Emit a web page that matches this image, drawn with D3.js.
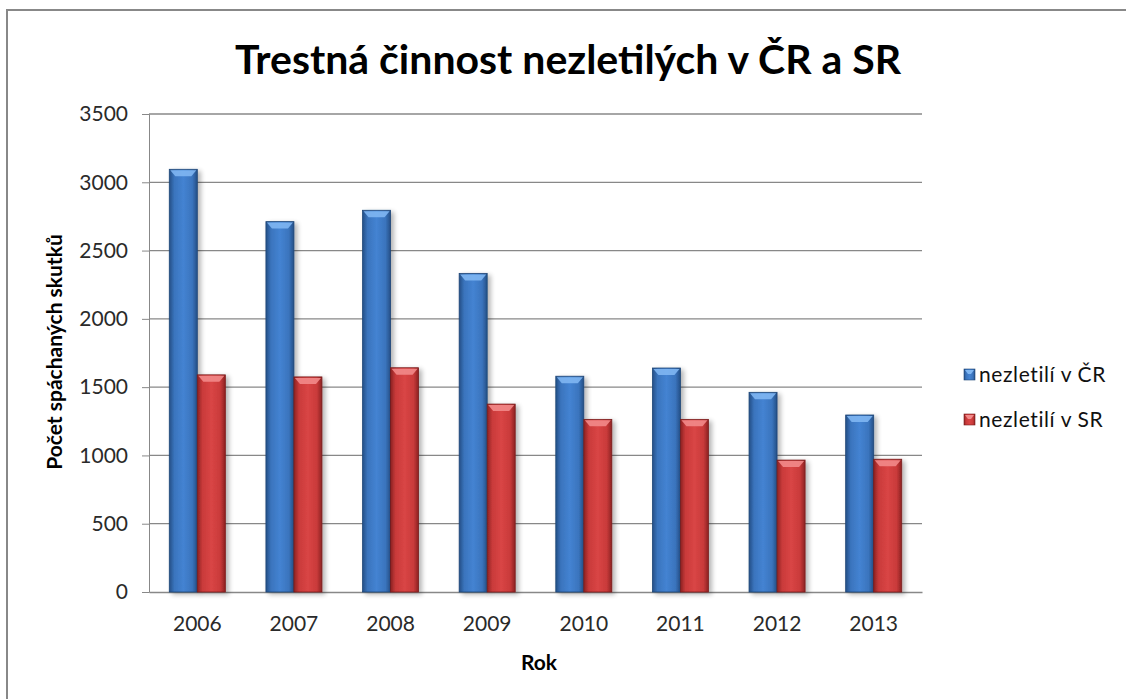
<!DOCTYPE html>
<html>
<head>
<meta charset="utf-8">
<style>
    body { margin: 0; background: #fff; }
    svg text { font-family: Lato, "Open Sans", sans-serif; fill: #000; }
    .tick text { font-size: 21px; fill: #2a2a2a; }
    .title { font-size: 41px; font-weight: bold; }
    .axis-title { font-size: 21px; font-weight: bold; }
    .legend text { font-size: 21px; letter-spacing: 0.6px; fill: #111; }
</style>
<script src="https://d3js.org/d3.v7.min.js"></script>
</head>
<body>
<svg width="1126" height="699"></svg>
<script>
    var years = ["2006", "2007", "2008", "2009", "2010", "2011", "2012", "2013"];
    var seriesNames = ["nezletilí v ČR", "nezletilí v SR"];
    var valuesCR = [3095, 2712, 2795, 2333, 1580, 1640, 1462, 1296];
    var valuesSR = [1590, 1575, 1642, 1376, 1264, 1264, 966, 972];
    var yTicks = [0, 500, 1000, 1500, 2000, 2500, 3000, 3500];

    var svg = d3.select("svg");
    var margin = { left: 149, right: 1126 - 922, top: 114, bottom: 699 - 592 };
    var w = 1126 - margin.left - margin.right,
        h = 699 - margin.top - margin.bottom;

    // outer frame
    svg.append("path")
       .attr("d", "M7,699 V10 H1126")
       .attr("fill", "none")
       .attr("stroke", "#888")
       .attr("stroke-width", 2);

    var defs = svg.append("defs");
    function barGradient(id, edge, mid, light) {
        var g = defs.append("linearGradient").attr("id", id)
            .attr("x1", "0%").attr("x2", "100%").attr("y1", "0%").attr("y2", "0%");
        g.append("stop").attr("offset", "0%").attr("stop-color", edge);
        g.append("stop").attr("offset", "18%").attr("stop-color", mid);
        g.append("stop").attr("offset", "50%").attr("stop-color", light);
        g.append("stop").attr("offset", "82%").attr("stop-color", mid);
        g.append("stop").attr("offset", "100%").attr("stop-color", edge);
    }
    barGradient("gBlue", "#244f86", "#3a74bd", "#4483d2");
    barGradient("gRed", "#8c2222", "#c93a3a", "#d94545");
    var capBlue = "#7fb6f2", capRed = "#f28a8a";

    var shadow = defs.append("filter").attr("id", "shadow")
        .attr("x", "-20%").attr("y", "-5%").attr("width", "150%").attr("height", "115%");
    shadow.append("feGaussianBlur").attr("in", "SourceAlpha").attr("stdDeviation", 2.5);
    shadow.append("feOffset").attr("dx", 3).attr("dy", 2).attr("result", "b");
    shadow.append("feComponentTransfer").append("feFuncA").attr("type", "linear").attr("slope", 0.3);
    var fm = shadow.append("feMerge");
    fm.append("feMergeNode");
    fm.append("feMergeNode").attr("in", "SourceGraphic");

    var g = svg.append("g").attr("transform", "translate(" + margin.left + "," + margin.top + ")");

    var x = d3.scaleBand().domain(years).range([0, w]).paddingInner(0.42).paddingOuter(0.21);
    var x1 = d3.scaleBand().domain(seriesNames).range([0, x.bandwidth()]);
    var y = d3.scaleLinear().domain([0, 3500]).range([h, 0]);

    // gridlines
    g.append("g").selectAll("line").data(yTicks.slice(1)).join("line")
        .attr("x1", 0).attr("x2", w)
        .attr("y1", d => y(d)).attr("y2", d => y(d))
        .attr("stroke", "#888").attr("stroke-width", 1.3);

    // y axis
    var yAxis = g.append("g").call(d3.axisLeft(y).tickValues(yTicks).tickFormat(d3.format("d")).tickSize(7).tickPadding(14));
    yAxis.select(".domain").attr("stroke", "#888");
    yAxis.selectAll(".tick line").attr("stroke", "#888");

    // x axis
    var xAxis = g.append("g").attr("transform", "translate(0," + h + ")")
        .call(d3.axisBottom(x).tickSize(0).tickPadding(24));
    xAxis.select(".domain").attr("stroke", "#888").attr("stroke-width", 1.3);

    var series = [
        { name: seriesNames[0], values: valuesCR, fill: "url(#gBlue)", cap: capBlue, edge: "#1f4677" },
        { name: seriesNames[1], values: valuesSR, fill: "url(#gRed)", cap: capRed, edge: "#7a1c1c" }
    ];

    series.forEach(function (s) {
        var bw = x1.bandwidth();
        var bars = g.append("g").selectAll("g").data(years).join("g")
            .attr("transform", (d, i) => "translate(" + (x(d) + x1(s.name)) + "," + y(s.values[i]) + ")")
            .attr("filter", "url(#shadow)");
        bars.append("rect")
            .attr("width", bw)
            .attr("height", (d, i) => h - y(s.values[i]))
            .attr("fill", s.fill)
            .attr("stroke", s.edge).attr("stroke-width", 0.8);
        // bevelled top highlight
        bars.append("path")
            .attr("d", "M1,1 H" + (bw - 1) + " L" + (bw - 6) + ",7 H6 Z")
            .attr("fill", s.cap).attr("opacity", 0.9);
    });

    // title
    svg.append("text").attr("class", "title")
        .attr("x", 568).attr("y", 74).attr("text-anchor", "middle")
        .text("Trestná činnost nezletilých v ČR a SR");

    // axis titles
    svg.append("text").attr("class", "axis-title")
        .attr("transform", "translate(62,352) rotate(-90)")
        .attr("text-anchor", "middle")
        .text("Počet spáchaných skutků");
    svg.append("text").attr("class", "axis-title")
        .attr("x", 539).attr("y", 670).attr("text-anchor", "middle")
        .text("Rok");

    // legend
    var legend = svg.append("g").attr("class", "legend").attr("transform", "translate(964,375)");
    var li = legend.selectAll("g").data(series).join("g")
        .attr("transform", (d, i) => "translate(0," + i * 45 + ")");
    li.append("rect").attr("x", 0).attr("y", -6).attr("width", 11).attr("height", 11)
        .attr("fill", d => d.fill).attr("stroke", d => d.edge).attr("stroke-width", 0.6);
    li.append("path").attr("d", "M1,-5 H10 L7,-1 H4 Z").attr("fill", d => d.cap);
    li.append("text").attr("x", 15).attr("y", 7).text(d => d.name);
</script>
</body>
</html>
